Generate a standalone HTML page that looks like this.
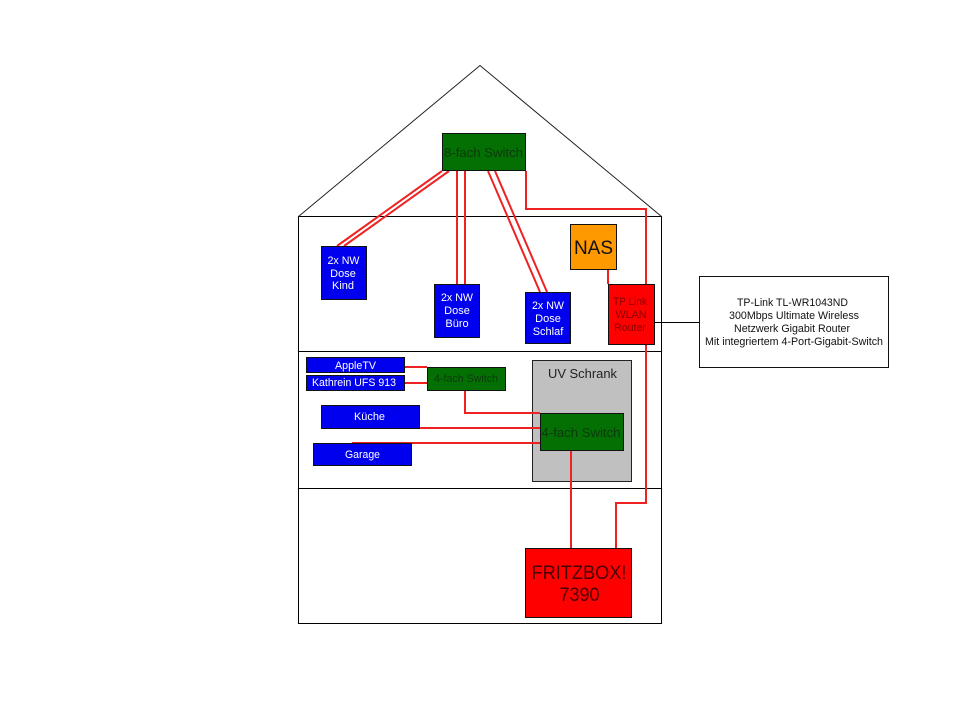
<!DOCTYPE html>
<html><head><meta charset="utf-8"><style>
html,body{margin:0;padding:0;background:#fff}
svg{display:block}
text{font-family:"Liberation Sans",Arial,sans-serif;text-anchor:middle}
.w{fill:#fff;font-size:11px}
.k{fill:#111;font-size:11px}
.g{fill:#0c3a0c}
.r{fill:#8a0000;font-size:11px}
</style></head><body>
<svg width="960" height="720" viewBox="0 0 960 720" xmlns="http://www.w3.org/2000/svg">
<g fill="none" stroke="#000" stroke-width="1" shape-rendering="crispEdges">
<rect x="298.5" y="216.5" width="363" height="407"/>
<path d="M298 351.500H662M298 488.500H662"/>
</g>
<path d="M298.500 216.500L480 65.500L661.500 216.500" fill="none" stroke="#222" stroke-width="1"/>
<rect x="532.500" y="360.500" width="99" height="121" fill="#c0c0c0" stroke="#222" shape-rendering="crispEdges"/>
<g fill="none" stroke="#ee2222" stroke-width="2">
<path d="M442 171L337 246M449 171L344 246"/>
<path d="M488 171L540 292M495 171L547 292"/>
</g>
<g fill="none" stroke="#ee2222" stroke-width="2" shape-rendering="crispEdges">
<path d="M457 171V284M465 171V284"/>
<path d="M526 171V209H646V503H616V548"/>
<path d="M608 269V284"/>
<path d="M571 451V548"/>
<path d="M405 367H427M405 383H427"/>
<path d="M465 391V413H540"/>
<path d="M420 428H540M352 443H540"/>
</g>
<path d="M655 322.500H699" stroke="#000" shape-rendering="crispEdges"/>
<g stroke="#111" stroke-width="1" shape-rendering="crispEdges">
<rect x="442.500" y="133.500" width="83" height="37" fill="#047004"/>
<rect x="321.500" y="246.500" width="45" height="53" fill="#0000ee"/>
<rect x="434.500" y="284.500" width="45" height="53" fill="#0000ee"/>
<rect x="525.500" y="292.500" width="45" height="51" fill="#0000ee"/>
<rect x="570.500" y="224.500" width="46" height="45" fill="#ff9900"/>
<rect x="608.500" y="284.500" width="46" height="60" fill="#ff0000"/>
<rect x="306.500" y="357.500" width="98" height="15" fill="#0000ee"/>
<rect x="306.500" y="375.500" width="98" height="15" fill="#0000ee"/>
<rect x="427.500" y="367.500" width="78" height="23" fill="#047004"/>
<rect x="321.500" y="405.500" width="98" height="23" fill="#0000ee"/>
<rect x="313.500" y="443.500" width="98" height="22" fill="#0000ee"/>
<rect x="540.500" y="413.500" width="83" height="37" fill="#047004"/>
<rect x="525.500" y="548.500" width="106" height="69" fill="#ff0000"/>
<rect x="699.500" y="276.500" width="189" height="91" fill="#fff"/>
</g>
<text class="g" x="483.500" y="157" font-size="13" textLength="79" lengthAdjust="spacingAndGlyphs">8-fach Switch</text>
<text class="w" x="343.500" y="264" textLength="32" lengthAdjust="spacingAndGlyphs">2x NW</text>
<text class="w" x="343" y="277">Dose</text>
<text class="w" x="343" y="289">Kind</text>
<text class="w" x="457" y="301" textLength="32" lengthAdjust="spacingAndGlyphs">2x NW</text>
<text class="w" x="457" y="314">Dose</text>
<text class="w" x="457" y="327">Büro</text>
<text class="w" x="548" y="309" textLength="32" lengthAdjust="spacingAndGlyphs">2x NW</text>
<text class="w" x="548" y="322">Dose</text>
<text class="w" x="548" y="335">Schlaf</text>
<text x="593.500" y="254" font-size="19" fill="#111">NAS</text>
<text class="r" x="630" y="305" textLength="34" lengthAdjust="spacingAndGlyphs">TP Link</text>
<text class="r" x="631" y="318" textLength="31" lengthAdjust="spacingAndGlyphs">WLAN</text>
<text class="r" x="630" y="331" textLength="32" lengthAdjust="spacingAndGlyphs">Router</text>
<text class="w" x="355.500" y="369" textLength="41" lengthAdjust="spacingAndGlyphs">AppleTV</text>
<text class="w" x="354" y="386" textLength="84" lengthAdjust="spacingAndGlyphs">Kathrein UFS 913</text>
<text class="g" x="466" y="382" font-size="11" textLength="64" lengthAdjust="spacingAndGlyphs">4-fach Switch</text>
<text class="w" x="369.500" y="420" textLength="31" lengthAdjust="spacingAndGlyphs">Küche</text>
<text class="w" x="362.500" y="458" textLength="35" lengthAdjust="spacingAndGlyphs">Garage</text>
<text x="582.500" y="378" font-size="13" fill="#222" textLength="69" lengthAdjust="spacingAndGlyphs">UV Schrank</text>
<text class="g" x="581" y="437" font-size="13" textLength="79" lengthAdjust="spacingAndGlyphs">4-fach Switch</text>
<text x="579" y="579" font-size="19" fill="#4a0000" textLength="95" lengthAdjust="spacingAndGlyphs">FRITZBOX!</text>
<text x="579.500" y="601" font-size="19" fill="#4a0000" textLength="40" lengthAdjust="spacingAndGlyphs">7390</text>
<g fill="#111" font-size="11">
<text x="792.500" y="306" textLength="111" lengthAdjust="spacingAndGlyphs">TP-Link TL-WR1043ND</text>
<text x="794" y="319" textLength="130" lengthAdjust="spacingAndGlyphs">300Mbps Ultimate Wireless</text>
<text x="792" y="332" textLength="116" lengthAdjust="spacingAndGlyphs">Netzwerk Gigabit Router</text>
<text x="794" y="345" textLength="178" lengthAdjust="spacingAndGlyphs">Mit integriertem 4-Port-Gigabit-Switch</text>
</g>
</svg>
</body></html>
